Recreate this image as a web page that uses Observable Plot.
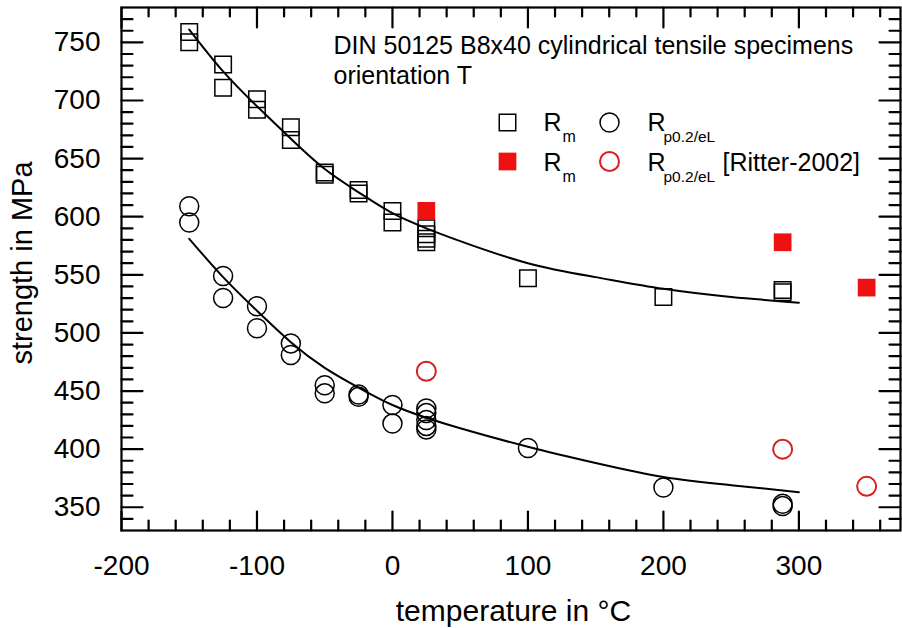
<!DOCTYPE html>
<html>
<head>
<meta charset="utf-8">
<script src="https://cdn.jsdelivr.net/npm/d3@7"></script>
<script src="https://cdn.jsdelivr.net/npm/@observablehq/plot@0.6"></script>
<style>
  html, body { margin: 0; padding: 0; background: #fff; }
  #chart svg { display: block; }
</style>
</head>
<body>
<div id="chart"></div>
<script>
// ---- data ----
const rmOwnT = [-150,-150,-125,-125,-100,-100,-75,-75,-50,-50,-25,-25,0,0,25,25,25,25,100,200,288,288];
const rmOwnV = [759,750,731,711,701,692,677,666,638,636,623,620,605,595,590,585,581,578,547,531,537,535];

const rpOwnT = [-150,-150,-125,-125,-100,-100,-75,-75,-50,-50,-25,-25,0,0,25,25,25,25,25,100,200,288,288];
const rpOwnV = [609,595,549,530,523,504,491,481,455,448,447,445,438,422,435,431,425,420,417,401,367,353,351];

const rmRitT = [25, 288, 350];
const rmRitV = [605, 578, 539];
const rpRitT = [25, 288, 350];
const rpRitV = [467, 400, 368];

const fitT  = [-150,-125,-100,-75,-50,-25,0,25,50,100,150,200,250,300];
const rmFit = [761,725,695,667,641,621,603,590,579,560,548,538,531,526];
const rpFit = [581,548,519,492,470,453,438,427,418,402,388,376,369,363];

const xTicks = [-200,-100,0,100,200,300];
const yTicks = [350,400,450,500,550,600,650,700,750];
const xMinor = d3.range(-180, 375, 20).filter(v => v % 100 !== 0);
const yMinor = d3.range(340, 780, 10).filter(v => v % 50 !== 0);

const title1 = "DIN 50125 B8x40 cylindrical tensile specimens";
const title2 = "orientation T";
const xLabel = "temperature in °C";
const yLabel = "strength in MPa";

// ---- build tables ----
const pts = (T, V) => T.map((t, i) => ({t, v: V[i]}));
const rmOwn = pts(rmOwnT, rmOwnV), rpOwn = pts(rpOwnT, rpOwnV);
const rmRit = pts(rmRitT, rmRitV), rpRit = pts(rpRitT, rpRitV);
const rmLine = pts(fitT, rmFit), rpLine = pts(fitT, rpFit);

const tickShape = {draw(ctx, l) { ctx.moveTo(0, 0); ctx.lineTo(0, -l); }};
const tk = (data, side, len) => {
  const o = {frameAnchor: side, length: len, anchor: "start", shape: tickShape,
             stroke: "black", strokeWidth: 2.2};
  if (side === "bottom") Object.assign(o, {x: d => d, rotate: 0});
  if (side === "top") Object.assign(o, {x: d => d, rotate: 180});
  if (side === "left") Object.assign(o, {y: d => d, rotate: 90});
  if (side === "right") Object.assign(o, {y: d => d, rotate: -90});
  return Plot.vector(data, o);
};

const RED = "#ee1111", RED_O = "#d81e1e";
const L = 121, T = 7;
const lg = (txt, x, y, size) => Plot.text([txt], {text: d => d, frameAnchor: "top-left",
  dx: x - L, dy: y - T, textAnchor: "start", lineAnchor: "bottom", fontSize: size, fill: "black"});

const chart = Plot.plot({
  width: 902,
  height: 628,
  marginLeft: L,
  marginTop: T,
  marginRight: 2,
  marginBottom: 98,
  style: {fontFamily: "'Liberation Sans', Arial, Helvetica, sans-serif", fontSize: "28px", color: "black", background: "white"},
  x: {domain: [-200, 375]},
  y: {domain: [330, 780]},
  marks: [
    Plot.axisX({ticks: xTicks, tickSize: 0, tickPadding: 25, label: null, fontSize: 28, tickFormat: d => String(d).replace("−", "-")}),
    Plot.axisY({ticks: yTicks, tickSize: 0, tickPadding: 21, label: null, fontSize: 28}),
    tk(xTicks, "bottom", 19), tk(xMinor, "bottom", 10),
    tk(xTicks, "top", 20), tk(xMinor, "top", 9),
    tk(yTicks, "left", 21), tk(yMinor, "left", 11),
    tk(yTicks, "right", 21), tk(yMinor, "right", 11),
    Plot.frame({stroke: "black", strokeWidth: 2.2}),
    Plot.line(rmLine, {x: "t", y: "v", curve: "natural", stroke: "black", strokeWidth: 2}),
    Plot.line(rpLine, {x: "t", y: "v", curve: "natural", stroke: "black", strokeWidth: 2}),
    Plot.dot(rmOwn, {x: "t", y: "v", symbol: "square", r: 9.3, stroke: "black", strokeWidth: 1.5, fill: "none"}),
    Plot.dot(rpOwn, {x: "t", y: "v", symbol: "circle", r: 9.5, stroke: "black", strokeWidth: 1.5, fill: "none"}),
    Plot.dot(rmRit, {x: "t", y: "v", symbol: "square", r: 10, fill: RED, stroke: "none"}),
    Plot.dot(rpRit, {x: "t", y: "v", symbol: "circle", r: 9.5, stroke: RED_O, strokeWidth: 2, fill: "none"}),
    // axis titles
    Plot.text([xLabel], {text: d => d, frameAnchor: "bottom", dx: 2.5, dy: 90, lineAnchor: "bottom", textAnchor: "middle", fontSize: 30}),
    Plot.text([yLabel], {text: d => d, frameAnchor: "left", rotate: -90, dx: 31 - L, dy: -6, lineAnchor: "bottom", textAnchor: "middle", fontSize: 29}),
    // annotation
    Plot.text([title1 + "\n" + title2], {text: d => d, frameAnchor: "top-left", dx: 333 - L, dy: 83 - T,
      textAnchor: "start", lineAnchor: "bottom", lineHeight: 1.2, fontSize: 25}),
    // legend
    Plot.dot([0], {frameAnchor: "top-left", dx: 507 - L, dy: 122 - T, symbol: "square", r: 9.3, stroke: "black", strokeWidth: 1.5, fill: "none"}),
    Plot.dot([0], {frameAnchor: "top-left", dx: 609 - L, dy: 122 - T, symbol: "circle", r: 9.5, stroke: "black", strokeWidth: 1.5, fill: "none"}),
    Plot.dot([0], {frameAnchor: "top-left", dx: 507 - L, dy: 161 - T, symbol: "square", r: 10, fill: RED, stroke: "none"}),
    Plot.dot([0], {frameAnchor: "top-left", dx: 609 - L, dy: 161 - T, symbol: "circle", r: 9.5, stroke: RED_O, strokeWidth: 2, fill: "none"}),
    lg("R", 543, 130, 25), lg("m", 562, 141, 16),
    lg("R", 647, 130, 25), lg("p0.2/eL", 663, 141, 15.5),
    lg("R", 543, 170, 25), lg("m", 562, 181, 16),
    lg("R", 647, 170, 25), lg("p0.2/eL", 663, 181, 15.5),
    lg("[Ritter-2002]", 722, 170, 25)
  ]
});
document.getElementById("chart").appendChild(chart);
</script>
</body>
</html>
